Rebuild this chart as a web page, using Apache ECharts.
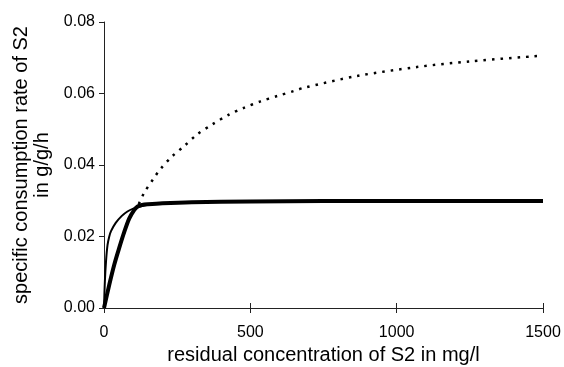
<!DOCTYPE html>
<html>
<head>
<meta charset="utf-8">
<script src="https://cdn.jsdelivr.net/npm/echarts@6/dist/echarts.min.js"></script>
<style>
html,body{margin:0;padding:0;background:#fff;}
#c{width:564px;height:367px;}
</style>
</head>
<body>
<div id="c"></div>
<script>
// tick labels
const xTicks = [0, 500, 1000, 1500];
const yTicks = [0, 0.02, 0.04, 0.06, 0.08];

// dotted curve
const dottedS = [0, 18, 35, 52, 69, 86, 103, 115, 137, 171, 194, 234, 274, 319, 371, 427, 478, 535, 592, 649, 683, 865, 1069, 1251, 1500];
const dottedQ = [0, 0.0065, 0.0121, 0.0168, 0.0212, 0.0250, 0.0274, 0.0285, 0.0322, 0.0364, 0.0390, 0.0425, 0.0453, 0.0486, 0.0514, 0.0541, 0.0560, 0.0578, 0.0593, 0.0607, 0.0616, 0.0649, 0.0674, 0.0690, 0.0706];

// thick solid curve
const thickS = [0, 18, 35, 52, 69, 86, 103, 115, 130, 150, 200, 300, 500, 750, 1000, 1500];
const thickQ = [0, 0.0065, 0.0121, 0.0168, 0.0212, 0.0250, 0.0274, 0.0284, 0.0288, 0.0290, 0.0293, 0.0296, 0.0298, 0.0299, 0.0299, 0.0299];

// thin solid curve
const thinS = [0, 3, 7, 12, 18, 24, 40, 60, 80, 100, 125, 150, 200];
const thinQ = [0, 0.0075, 0.0132, 0.0176, 0.0200, 0.0215, 0.0238, 0.0257, 0.0270, 0.0278, 0.0284, 0.0289, 0.0293];

const zip = (a, b) => a.map((v, i) => [v, b[i]]);

const chart = echarts.init(document.getElementById('c'), null, {renderer: 'canvas'});
const font = 'Liberation Sans, Arial, Helvetica, sans-serif';
chart.setOption({
  backgroundColor: '#fff',
  animation: false,
  grid: {left: 104, right: 21, top: 22, bottom: 59, containLabel: false, outerBoundsMode: 'none'},
  xAxis: [{
    type: 'value', min: 0, max: 1500, interval: 500,
    name: 'residual concentration of S2 in mg/l',
    nameLocation: 'middle', nameGap: 36,
    nameTextStyle: {color: '#000', fontSize: 20, fontFamily: font},
    axisLine: {show: true, lineStyle: {color: '#222', width: 1}},
    axisTick: {show: true, inside: false, length: 5, lineStyle: {color: '#222'}},
    axisLabel: {color: '#000', fontSize: 16, fontFamily: font, margin: 17,
      formatter: v => xTicks.includes(v) ? String(v) : ''},
    splitLine: {show: false}
  }, {
    type: 'value', min: 0, max: 1500, interval: 500, position: 'bottom',
    axisLine: {show: false},
    axisTick: {show: true, inside: true, length: 5, lineStyle: {color: '#222'}},
    axisLabel: {show: false},
    splitLine: {show: false}
  }],
  yAxis: {
    type: 'value', min: 0, max: 0.08, interval: 0.02,
    name: 'specific consumption rate of S2\nin g/g/h',
    nameLocation: 'middle', nameGap: 42,
    nameTextStyle: {color: '#000', fontSize: 20, fontFamily: font, lineHeight: 21, align: 'center'},
    axisLine: {show: true, lineStyle: {color: '#222', width: 1}},
    axisTick: {show: true, length: 5, lineStyle: {color: '#222'}},
    axisLabel: {color: '#000', fontSize: 16, fontFamily: font, margin: 9,
      formatter: v => yTicks.some(t => Math.abs(t - v) < 1e-9) ? v.toFixed(2) : ''},
    splitLine: {show: false}
  },
  series: [{
    type: 'line', data: zip(dottedS, dottedQ), showSymbol: false, smooth: 0.3,
    lineStyle: {color: '#000', width: 2.5, type: [2.5, 6], cap: 'butt'}, z: 2
  }, {
    type: 'line', data: zip(thinS, thinQ), showSymbol: false, smooth: 0.3,
    lineStyle: {color: '#000', width: 2}, z: 3
  }, {
    type: 'line', data: zip(thickS, thickQ), showSymbol: false, smooth: 0.3,
    lineStyle: {color: '#000', width: 4}, z: 4
  }]
});
</script>
</body>
</html>
